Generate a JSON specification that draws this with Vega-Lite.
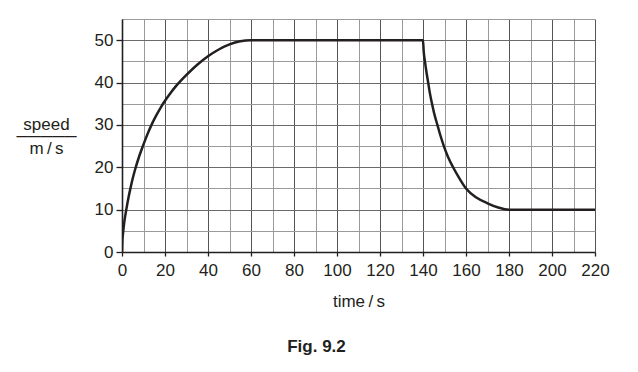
{
  "$schema": "https://vega.github.io/schema/vega-lite/v6.json",
  "autosize": "none",
  "width": 473,
  "height": 233,
  "padding": {"left": 122, "top": 19, "right": 43, "bottom": 120},
  "background": "white",
  "title": {
    "text": "Fig. 9.2",
    "orient": "bottom",
    "anchor": "middle",
    "frame": "group",
    "font": "Liberation Sans",
    "fontSize": 17,
    "fontWeight": "bold",
    "color": "#231f20",
    "dx": -42,
    "offset": 30
  },
  "config": {
    "view": {"stroke": null},
    "axis": {
      "labelFont": "Liberation Sans",
      "titleFont": "Liberation Sans",
      "labelFontSize": 17,
      "titleFontSize": 17,
      "labelColor": "#231f20",
      "titleColor": "#231f20",
      "titleFontWeight": "normal",
      "domainColor": "#231f20",
      "domainWidth": 1.6,
      "tickColor": "#231f20",
      "tickWidth": 1.3,
      "gridOpacity": 1,
      "gridWidth": 1
    }
  },
  "data": {
    "values": [
      {"t": 0, "v": 0},
      {"t": 0.15, "v": 2.5},
      {"t": 0.5, "v": 4.5},
      {"t": 1, "v": 6.8},
      {"t": 2, "v": 10},
      {"t": 3, "v": 12.8},
      {"t": 4, "v": 15.2},
      {"t": 5, "v": 17.4},
      {"t": 6, "v": 19.3},
      {"t": 8, "v": 22.6},
      {"t": 10, "v": 25.4},
      {"t": 12, "v": 28.0},
      {"t": 14, "v": 30.3},
      {"t": 16, "v": 32.3},
      {"t": 18, "v": 34.1},
      {"t": 20, "v": 35.7},
      {"t": 22.5, "v": 37.5},
      {"t": 25, "v": 39.1},
      {"t": 27.5, "v": 40.5},
      {"t": 30, "v": 41.8},
      {"t": 35, "v": 44.2},
      {"t": 40, "v": 46.2},
      {"t": 45, "v": 47.8},
      {"t": 50, "v": 49.0},
      {"t": 55, "v": 49.75},
      {"t": 60, "v": 50},
      {"t": 100, "v": 50},
      {"t": 140, "v": 50},
      {"t": 140.3, "v": 47.5},
      {"t": 140.9, "v": 45},
      {"t": 141.6, "v": 42.5},
      {"t": 142.4, "v": 40},
      {"t": 143.2, "v": 37.5},
      {"t": 144.2, "v": 35},
      {"t": 145.3, "v": 32.5},
      {"t": 146.7, "v": 30},
      {"t": 148.1, "v": 27.5},
      {"t": 149.7, "v": 25},
      {"t": 151.6, "v": 22.5},
      {"t": 154.0, "v": 20},
      {"t": 156.8, "v": 17.5},
      {"t": 160, "v": 15},
      {"t": 165, "v": 12.8},
      {"t": 170, "v": 11.5},
      {"t": 175, "v": 10.5},
      {"t": 178, "v": 10.1},
      {"t": 180, "v": 10},
      {"t": 200, "v": 10},
      {"t": 220, "v": 10}
    ]
  },
  "mark": {"type": "line", "interpolate": "monotone", "color": "#231f20", "strokeWidth": 2.5, "clip": true},
  "encoding": {
    "x": {
      "field": "t",
      "type": "quantitative",
      "scale": {"domain": [0, 220], "nice": false, "zero": false},
      "axis": {
        "title": "time\u2009/\u2009s",
        "values": [0, 10, 20, 30, 40, 50, 60, 70, 80, 90, 100, 110, 120, 130, 140, 150, 160, 170, 180, 190, 200, 210, 220],
        "labelExpr": "datum.value % 20 == 0 ? datum.label : ''",
        "labelPadding": 6,
        "tickSize": 4,
        "tickOpacity": {"condition": {"test": "datum.value % 20 == 0", "value": 1}, "value": 0},
        "grid": true,
        "gridColor": {"condition": {"test": "datum.value % 20 == 0", "value": "#555555"}, "value": "#9a9a9a"},
        "labelFlush": false,
        "titleBaseline": "alphabetic",
        "titleY": 54
      }
    },
    "y": {
      "field": "v",
      "type": "quantitative",
      "scale": {"domain": [0, 55], "nice": false, "zero": false},
      "axis": {
        "title": ["speed", "\u2500\u2500\u2500\u2500\u2500", "m\u2009/\u2009s"],
        "values": [0, 5, 10, 15, 20, 25, 30, 35, 40, 45, 50, 55],
        "labelExpr": "datum.value % 10 == 0 ? datum.label : ''",
        "labelPadding": 3,
        "tickSize": 6,
        "tickOpacity": {"condition": {"test": "datum.value % 10 == 0", "value": 1}, "value": 0},
        "grid": true,
        "gridColor": {"condition": {"test": "datum.value % 10 == 0", "value": "#6a6a6a"}, "value": "#9a9a9a"},
        "titleAngle": 0,
        "titleAlign": "center",
        "titleBaseline": "alphabetic",
        "titleLineHeight": 12,
        "titleX": -76,
        "titleY": 110
      }
    }
  }
}
